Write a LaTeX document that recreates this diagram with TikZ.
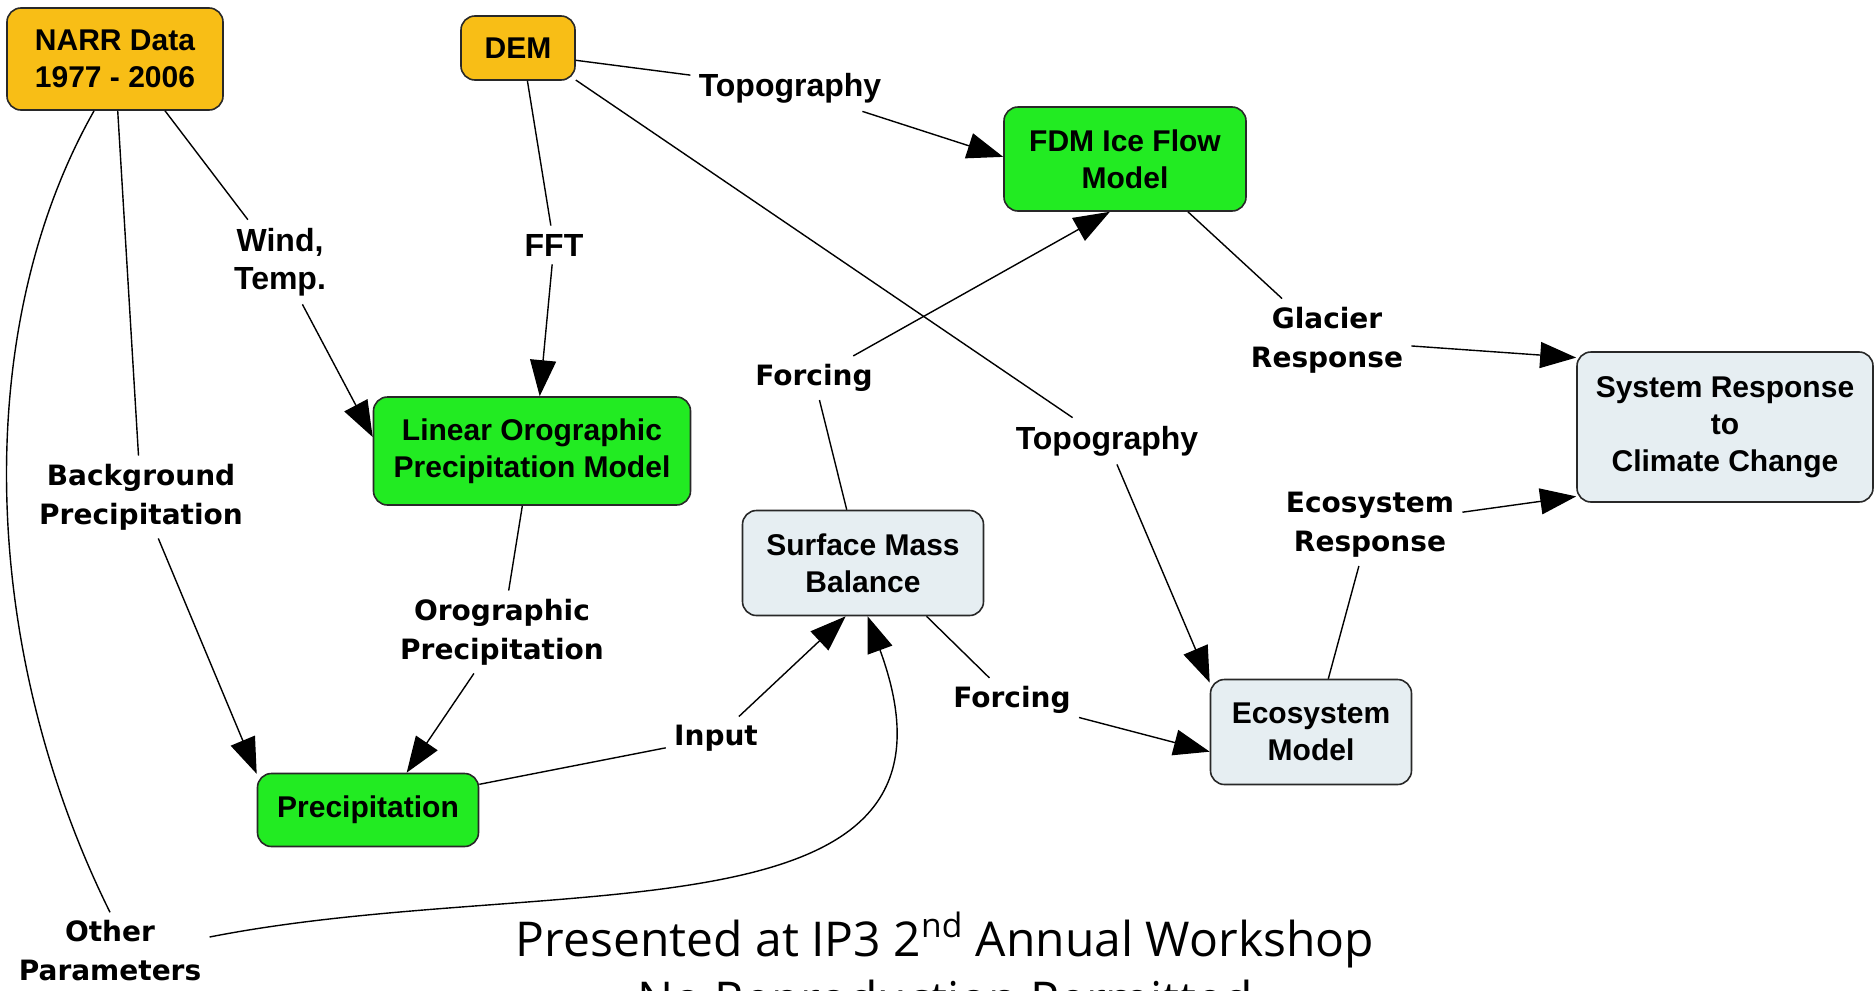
\documentclass[tikz,border=0pt]{standalone}
\usepackage{fontspec}
\setmainfont{Liberation Sans}
\newfontfamily\lbfont{DejaVu Sans}
\newfontfamily\capfont{Open Sans}
\usetikzlibrary{arrows.meta,calc}
\definecolor{orng}{RGB}{248,190,22}
\definecolor{grn}{RGB}{34,235,34}
\definecolor{pale}{RGB}{230,238,242}
\definecolor{edgec}{RGB}{40,40,40}
\begin{document}
\begin{tikzpicture}[x=0.5pt,y=-0.5pt,
  box/.style={draw=edgec, line width=0.8pt, rounded corners=7pt, align=center,
    font=\fontsize{15}{18.5}\selectfont\bfseries, inner sep=0pt},
  obox/.style={box, fill=orng},
  gbox/.style={box, fill=grn},
  pbox/.style={box, fill=pale},
  lbl/.style={font=\lbfont\fontsize{14}{19.5}\selectfont\bfseries, align=center, inner sep=4pt},
  lblA/.style={font=\fontsize{16}{19}\selectfont\bfseries, align=center, inner sep=4pt},
  con/.style={draw=black, line width=0.7pt},
  arr/.style={con, -{Triangle[length=18pt,width=13pt]}},
  capt/.style={font=\capfont\fontsize{24}{28}\selectfont, anchor=base, inner sep=0pt}]
\fill[white] (0,0) rectangle (1876,991);
\useasboundingbox (0,0) rectangle (1876,991);

% boxes
\node[obox, minimum width=108pt, minimum height=51pt] (narr) at (115,59) {NARR Data\\1977 - 2006};
\node[obox, minimum width=57pt, minimum height=32pt] (dem) at (518,48) {DEM};
\node[gbox, minimum width=121pt, minimum height=52pt] (fdm) at (1125,159) {FDM Ice Flow\\Model};
\node[gbox, minimum width=158.5pt, minimum height=54pt] (linear) at (532,451) {Linear Orographic\\Precipitation Model};
\node[pbox, minimum width=120.5pt, minimum height=52.5pt] (smb) at (863,563) {Surface Mass\\Balance};
\node[pbox, minimum width=148pt, minimum height=75pt] (sys) at (1725,427) {System Response\\to\\Climate Change};
\node[pbox, minimum width=100.5pt, minimum height=52.5pt] (eco) at (1311,732) {Ecosystem\\Model};
\node[gbox, minimum width=110.5pt, minimum height=36.5pt] (precip) at (368,810) {Precipitation};

% labels
\node[lblA] (topo1) at (790,88) {Topography};
\node[lblA] (wind) at (280,262) {Wind,\\Temp.};
\node[lblA] (fft) at (554,245) {FFT};
\node[lbl] (bg) at (141,497) {Background\\Precipitation};
\node[lbl] (forc1) at (814,378) {Forcing};
\node[lbl] (glac) at (1327,340) {Glacier\\Response};
\node[lblA] (topo2) at (1107,441) {Topography};
\node[lbl] (ecor) at (1370,525) {Ecosystem\\Response};
\node[lbl] (oro) at (502,632) {Orographic\\Precipitation};
\node[lbl] (forc2) at (1012,700) {Forcing};
\node[lbl] (inp) at (716,738) {Input};
\node[lbl] (other) at (110,951) {Other\\Parameters};

% connectors
\draw[con] (narr.-46) -- (wind);
\draw[arr] (wind) -- (linear.175);
\draw[con] (dem.-74) -- (fft);
\draw[arr] (fft) -- (linear.82);
\draw[con] (dem.-12) -- (topo1);
\draw[arr] (topo1) -- (fdm.179);
\draw[con] (dem.-29) -- (topo2);
\draw[arr] (topo2) -- (eco.154);
\draw[con] (smb.107) -- (forc1);
\draw[arr] (forc1) -- (fdm.254);
\draw[con] (fdm.-40) -- (glac);
\draw[arr] (glac) -- (sys.155);
\draw[con] (eco.72) -- (ecor);
\draw[arr] (ecor) -- (sys.205);
\draw[con] (linear.260) -- (oro);
\draw[arr] (oro) -- (precip.44);
\draw[con] (narr.-87) -- (bg);
\draw[arr] (bg) -- (precip.162);
\draw[con] (precip.13) -- (inp);
\draw[arr] (inp) -- (smb.252);
\draw[con] (smb.-40) -- (forc2);
\draw[arr] (forc2) -- (eco.191);
\draw[con] (narr.248) .. controls (-30,330) and (-20,650) .. (other.north);
\draw[arr] (other.8) .. controls (550,870) and (990,950) .. (smb.275);

% caption
\node[capt] (cap1) at (945,956) {Presented at IP3 2\textsuperscript{nd} Annual Workshop};
\node[capt] (cap2) at (945,1016) {No Reproduction Permitted};
\end{tikzpicture}
\end{document}
